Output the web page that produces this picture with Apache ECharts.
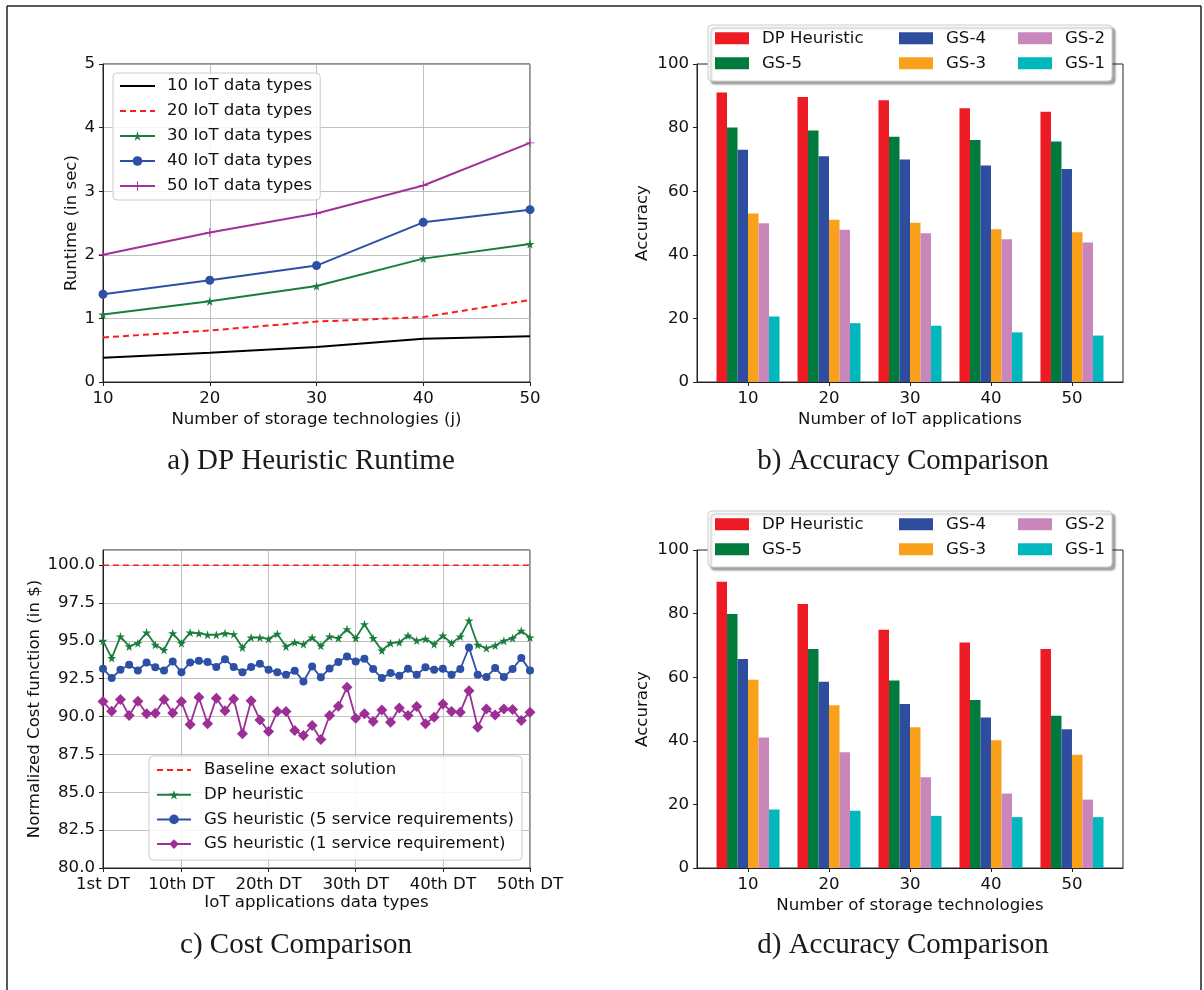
<!DOCTYPE html>
<html>
<head>
<meta charset="utf-8">
<script src="https://cdn.jsdelivr.net/npm/echarts@6/dist/echarts.min.js"></script>
<style>
html, body { margin: 0; padding: 0; background: #fff; }
#main { width: 1204px; height: 990px; }
</style>
</head>
<body>
<div id="main"></div>
<script>
// a) runtime of the DP heuristic
var storageTech = [10, 20, 30, 40, 50];
var runtime10 = [0.38, 0.46, 0.55, 0.68, 0.72];
var runtime20 = [0.70, 0.81, 0.95, 1.02, 1.29];
var runtime30 = [1.06, 1.27, 1.51, 1.94, 2.17];
var runtime40 = [1.38, 1.60, 1.83, 2.51, 2.71];
var runtime50 = [2.00, 2.35, 2.65, 3.09, 3.76];

// b) accuracy vs number of IoT applications
var appCounts = [10, 20, 30, 40, 50];
var appDP  = [91.0, 89.6, 88.6, 86.1, 85.0];
var appGS5 = [80.0, 79.1, 77.1, 76.1, 75.6];
var appGS4 = [73.0, 71.0, 70.0, 68.1, 67.0];
var appGS3 = [53.0, 51.0, 50.1, 48.0, 47.1];
var appGS2 = [49.9, 47.9, 46.8, 44.9, 43.9];
var appGS1 = [20.6, 18.5, 17.7, 15.6, 14.6];

// c) normalized cost per data type
var dtTickIndex = [1, 10, 20, 30, 40, 50];
var dtTickLabels = ['1st DT', '10th DT', '20th DT', '30th DT', '40th DT', '50th DT'];
var baselineCost = 100;
var costDP = [95.00, 93.86, 95.28, 94.63, 94.85, 95.55, 94.74, 94.40, 95.50, 94.85,
              95.55, 95.50, 95.40, 95.40, 95.50, 95.44, 94.56, 95.22, 95.22, 95.13,
              95.46, 94.63, 94.90, 94.78, 95.22, 94.67, 95.28, 95.18, 95.77, 95.18,
              96.10, 95.18, 94.36, 94.85, 94.90, 95.35, 95.02, 95.13, 94.78, 95.35,
              94.85, 95.28, 96.34, 94.74, 94.52, 94.69, 95.00, 95.18, 95.66, 95.22];
var costGS5 = [93.16, 92.54, 93.09, 93.42, 93.05, 93.57, 93.25, 93.05, 93.64, 92.92,
               93.57, 93.68, 93.60, 93.27, 93.79, 93.27, 92.92, 93.27, 93.49, 93.09,
               92.92, 92.76, 93.03, 92.32, 93.31, 92.59, 93.18, 93.60, 93.97, 93.64,
               93.82, 93.14, 92.54, 92.87, 92.70, 93.16, 92.76, 93.25, 93.09, 93.16,
               92.76, 93.14, 94.56, 92.76, 92.61, 93.20, 92.61, 93.14, 93.86, 93.05];
var costGS1 = [90.99, 90.35, 91.12, 90.07, 91.01, 90.18, 90.22, 91.12, 90.24, 90.99,
               89.47, 91.27, 89.52, 91.21, 90.39, 91.16, 88.86, 91.05, 89.78, 89.01,
               90.33, 90.33, 89.08, 88.75, 89.41, 88.49, 90.07, 90.68, 91.93, 89.89,
               90.18, 89.67, 90.44, 89.63, 90.57, 90.07, 90.66, 89.52, 89.96, 90.83,
               90.33, 90.29, 91.71, 89.30, 90.50, 90.11, 90.50, 90.46, 89.74, 90.29];

// d) accuracy vs number of storage technologies
var storCounts = [10, 20, 30, 40, 50];
var storDP  = [90.0, 83.0, 74.9, 70.9, 68.9];
var storGS5 = [79.9, 68.9, 59.0, 52.8, 47.9];
var storGS4 = [65.7, 58.6, 51.6, 47.3, 43.6];
var storGS3 = [59.2, 51.2, 44.3, 40.2, 35.6];
var storGS2 = [41.0, 36.4, 28.5, 23.4, 21.5];
var storGS1 = [18.4, 18.0, 16.4, 16.0, 16.0];

var barNames = ['DP Heuristic', 'GS-5', 'GS-4', 'GS-3', 'GS-2', 'GS-1'];
var barColors = ['#ed1c24', '#007a3d', '#2e4d9f', '#f9a11b', '#c986bb', '#00b8bc'];

var FONT = 'DejaVu Sans';
var FS = 16.6;
var INK = '#111';
var SPINE = '#222';
var GRIDLINE = '#b0b0b0';
var STAR = 'path://M50,0 L61,35 L98,35 L68,57 L79,91 L50,70 L21,91 L32,57 L2,35 L39,35 Z';
var PLUS = 'path://M9,0 H11 V9 H20 V11 H11 V20 H9 V11 H0 V9 H9 Z';

var chart = echarts.init(document.getElementById('main'), null, { renderer: 'canvas' });

function pairs(xs, ys) {
  return xs.map(function (x, i) { return [x, ys[i]]; });
}

function axisBase(extra) {
  var a = {
    axisLine: { show: true, lineStyle: { color: SPINE, width: 1 } },
    axisTick: { show: true, length: 4, lineStyle: { color: SPINE } },
    axisLabel: { fontFamily: FONT, fontSize: FS, color: INK, margin: 8 },
    nameTextStyle: { fontFamily: FONT, fontSize: FS, color: INK },
    nameLocation: 'middle',
    splitLine: { show: false }
  };
  for (var k in extra) {
    if (typeof extra[k] === 'object' && a[k] && !Array.isArray(extra[k])) {
      a[k] = Object.assign({}, a[k], extra[k]);
    } else {
      a[k] = extra[k];
    }
  }
  return a;
}

var grids = [
  { left: 103, top: 64, width: 427, height: 318 },
  { left: 697, top: 64, width: 426, height: 318 },
  { left: 103, top: 550, width: 427, height: 318 },
  { left: 697, top: 550, width: 426, height: 318 }
].map(function (g) {
  return Object.assign({ show: true, borderColor: SPINE, borderWidth: 1, backgroundColor: 'transparent' }, g);
});

var xAxes = [
  axisBase({ type: 'value', gridIndex: 0, min: 10, max: 50, interval: 10,
    name: 'Number of storage technologies (j)', nameGap: 29,
    splitLine: { show: true, lineStyle: { color: GRIDLINE, width: 0.8 } } }),
  axisBase({ type: 'value', gridIndex: 1, min: 3.7, max: 56.3,
    name: 'Number of IoT applications', nameGap: 29,
    axisTick: { customValues: appCounts },
    axisLabel: { customValues: appCounts } }),
  axisBase({ type: 'category', gridIndex: 2, boundaryGap: false,
    data: costDP.map(function (v, i) { return i + 1; }),
    name: 'IoT applications data types', nameGap: 25,
    axisTick: { interval: function (i) { return dtTickIndex.indexOf(i + 1) >= 0; } },
    axisLabel: { interval: function (i) { return dtTickIndex.indexOf(i + 1) >= 0; },
      formatter: function (v) { return dtTickLabels[dtTickIndex.indexOf(+v)]; } },
    splitLine: { show: true, interval: function (i) { return dtTickIndex.indexOf(i + 1) >= 0; },
      lineStyle: { color: GRIDLINE, width: 0.8 } } }),
  axisBase({ type: 'value', gridIndex: 3, min: 3.7, max: 56.3,
    name: 'Number of storage technologies', nameGap: 29,
    axisTick: { customValues: storCounts },
    axisLabel: { customValues: storCounts } })
];

var yAxes = [
  axisBase({ type: 'value', gridIndex: 0, min: 0, max: 5, interval: 1,
    name: 'Runtime (in sec)', nameGap: 23,
    splitLine: { show: true, lineStyle: { color: GRIDLINE, width: 0.8 } } }),
  axisBase({ type: 'value', gridIndex: 1, min: 0, max: 100, interval: 20,
    name: 'Accuracy', nameGap: 46 }),
  axisBase({ type: 'value', gridIndex: 2, min: 80, max: 101, interval: 2.5,
    name: 'Normalized Cost function (in $)', nameGap: 53,
    axisLabel: { showMaxLabel: false, formatter: function (v) { return v.toFixed(1); } },
    splitLine: { show: true, lineStyle: { color: GRIDLINE, width: 0.8 } } }),
  axisBase({ type: 'value', gridIndex: 3, min: 0, max: 100, interval: 20,
    name: 'Accuracy', nameGap: 46 })
];

function lineSeries(name, data, axis, color, opts) {
  return Object.assign({
    type: 'line', name: name, data: data, xAxisIndex: axis, yAxisIndex: axis,
    color: color, lineStyle: { color: color, width: 2 }, itemStyle: { color: color },
    symbol: 'none', showAllSymbol: true, z: 3
  }, opts || {});
}

var series = [
  lineSeries('10 IoT data types', pairs(storageTech, runtime10), 0, '#000000'),
  lineSeries('20 IoT data types', pairs(storageTech, runtime20), 0, '#ff1a1a',
    { lineStyle: { color: '#ff1a1a', width: 2, type: [6, 4] } }),
  lineSeries('30 IoT data types', pairs(storageTech, runtime30), 0, '#1b7d3d',
    { symbol: STAR, symbolSize: 9 }),
  lineSeries('40 IoT data types', pairs(storageTech, runtime40), 0, '#2d4fa5',
    { symbol: 'circle', symbolSize: 9 }),
  lineSeries('50 IoT data types', pairs(storageTech, runtime50), 0, '#a1309b',
    { symbol: PLUS, symbolSize: 9 }),

  lineSeries('Baseline exact solution', [[0, baselineCost], [costDP.length - 1, baselineCost]], 2, '#ff1a1a',
    { lineStyle: { color: '#ff1a1a', width: 1.5, type: [6, 4] } }),
  lineSeries('DP heuristic', costDP, 2, '#1b7d3d', { symbol: STAR, symbolSize: 9, lineStyle: { color: '#1b7d3d', width: 1.8 } }),
  lineSeries('GS heuristic (5 service requirements)', costGS5, 2, '#2d4fa5',
    { symbol: 'circle', symbolSize: 8, lineStyle: { color: '#2d4fa5', width: 1.8 } }),
  lineSeries('GS heuristic (1 service requirement)', costGS1, 2, '#9c2f96',
    { symbol: 'diamond', symbolSize: 11, lineStyle: { color: '#9c2f96', width: 1.8 } })
];

var appSets = [appDP, appGS5, appGS4, appGS3, appGS2, appGS1];
var storSets = [storDP, storGS5, storGS4, storGS3, storGS2, storGS1];
barNames.forEach(function (name, i) {
  series.push({ type: 'bar', name: name, xAxisIndex: 1, yAxisIndex: 1,
    data: pairs(appCounts, appSets[i]), barWidth: 10.5, barGap: '0%',
    itemStyle: { color: barColors[i] } });
});
barNames.forEach(function (name, i) {
  series.push({ type: 'bar', name: name, xAxisIndex: 3, yAxisIndex: 3,
    data: pairs(storCounts, storSets[i]), barWidth: 10.5, barGap: '0%',
    itemStyle: { color: barColors[i] } });
});

var legendText = { fontFamily: FONT, fontSize: FS, color: INK, lineHeight: 18, padding: [0, 0, 0, 7] };
var plainLine = { opacity: 0 };

var legends = [
  { orient: 'vertical', left: 113, top: 73, padding: [4, 8, 5, 6], itemWidth: 35, itemHeight: 12, itemGap: 7,
    borderColor: '#cccccc', borderWidth: 1, borderRadius: 4, backgroundColor: 'rgba(255,255,255,0.85)',
    textStyle: legendText, z: 20,
    data: [{ name: '10 IoT data types', itemStyle: plainLine }, { name: '20 IoT data types', itemStyle: plainLine },
      '30 IoT data types', '40 IoT data types', '50 IoT data types'] },
  { orient: 'vertical', left: 149, top: 756, padding: [5, 8, 7, 7], itemWidth: 34, itemHeight: 12, itemGap: 6.7,
    borderColor: '#cccccc', borderWidth: 1, borderRadius: 4, backgroundColor: 'rgba(255,255,255,0.85)',
    textStyle: Object.assign({}, legendText, { padding: [0, 0, 0, 8] }), z: 20,
    data: [{ name: 'Baseline exact solution', itemStyle: plainLine }, 'DP heuristic',
      'GS heuristic (5 service requirements)', 'GS heuristic (1 service requirement)'] }
];

var barCols = [[0, 1, 715], [2, 3, 899], [4, 5, 1018]];
[29.3, 515.3].forEach(function (top) {
  barCols.forEach(function (c) {
    legends.push({ orient: 'vertical', left: c[2], top: top, padding: 0, itemWidth: 34, itemHeight: 12, itemGap: 7,
      icon: 'rect', textStyle: Object.assign({}, legendText, { padding: [0, 0, 0, 8] }), z: 20,
      data: [barNames[c[0]], barNames[c[1]]] });
  });
});

function legendBox(y) {
  return { type: 'rect', z: 10, shape: { x: 708, y: y, width: 404, height: 56, r: 4 },
    style: { fill: '#ffffff', stroke: '#cccccc', lineWidth: 1,
      shadowBlur: 2, shadowOffsetX: 3, shadowOffsetY: 3, shadowColor: 'rgba(0,0,0,0.35)' } };
}

function caption(text, x, y) {
  return { type: 'text', x: x, y: y, z: 10,
    style: { text: text, font: '29px "Liberation Serif"', fill: '#1a1a1a', align: 'center', verticalAlign: 'middle' } };
}

function frameLine(x1, y1, x2, y2) {
  return { type: 'line', z: 10, shape: { x1: x1, y1: y1, x2: x2, y2: y2 }, style: { stroke: '#222', lineWidth: 1.5 } };
}

var option = {
  animation: false,
  backgroundColor: '#ffffff',
  grid: grids,
  xAxis: xAxes,
  yAxis: yAxes,
  legend: legends,
  series: series,
  graphic: [
    frameLine(7, 6, 7, 990), frameLine(7, 6, 1201, 6), frameLine(1201, 6, 1201, 990),
    legendBox(25), legendBox(511),
    caption('a) DP Heuristic Runtime', 311, 461),
    caption('b) Accuracy Comparison', 903, 461),
    caption('c) Cost Comparison', 296, 945),
    caption('d) Accuracy Comparison', 903, 945)
  ]
};

chart.setOption(option);
</script>
</body>
</html>
